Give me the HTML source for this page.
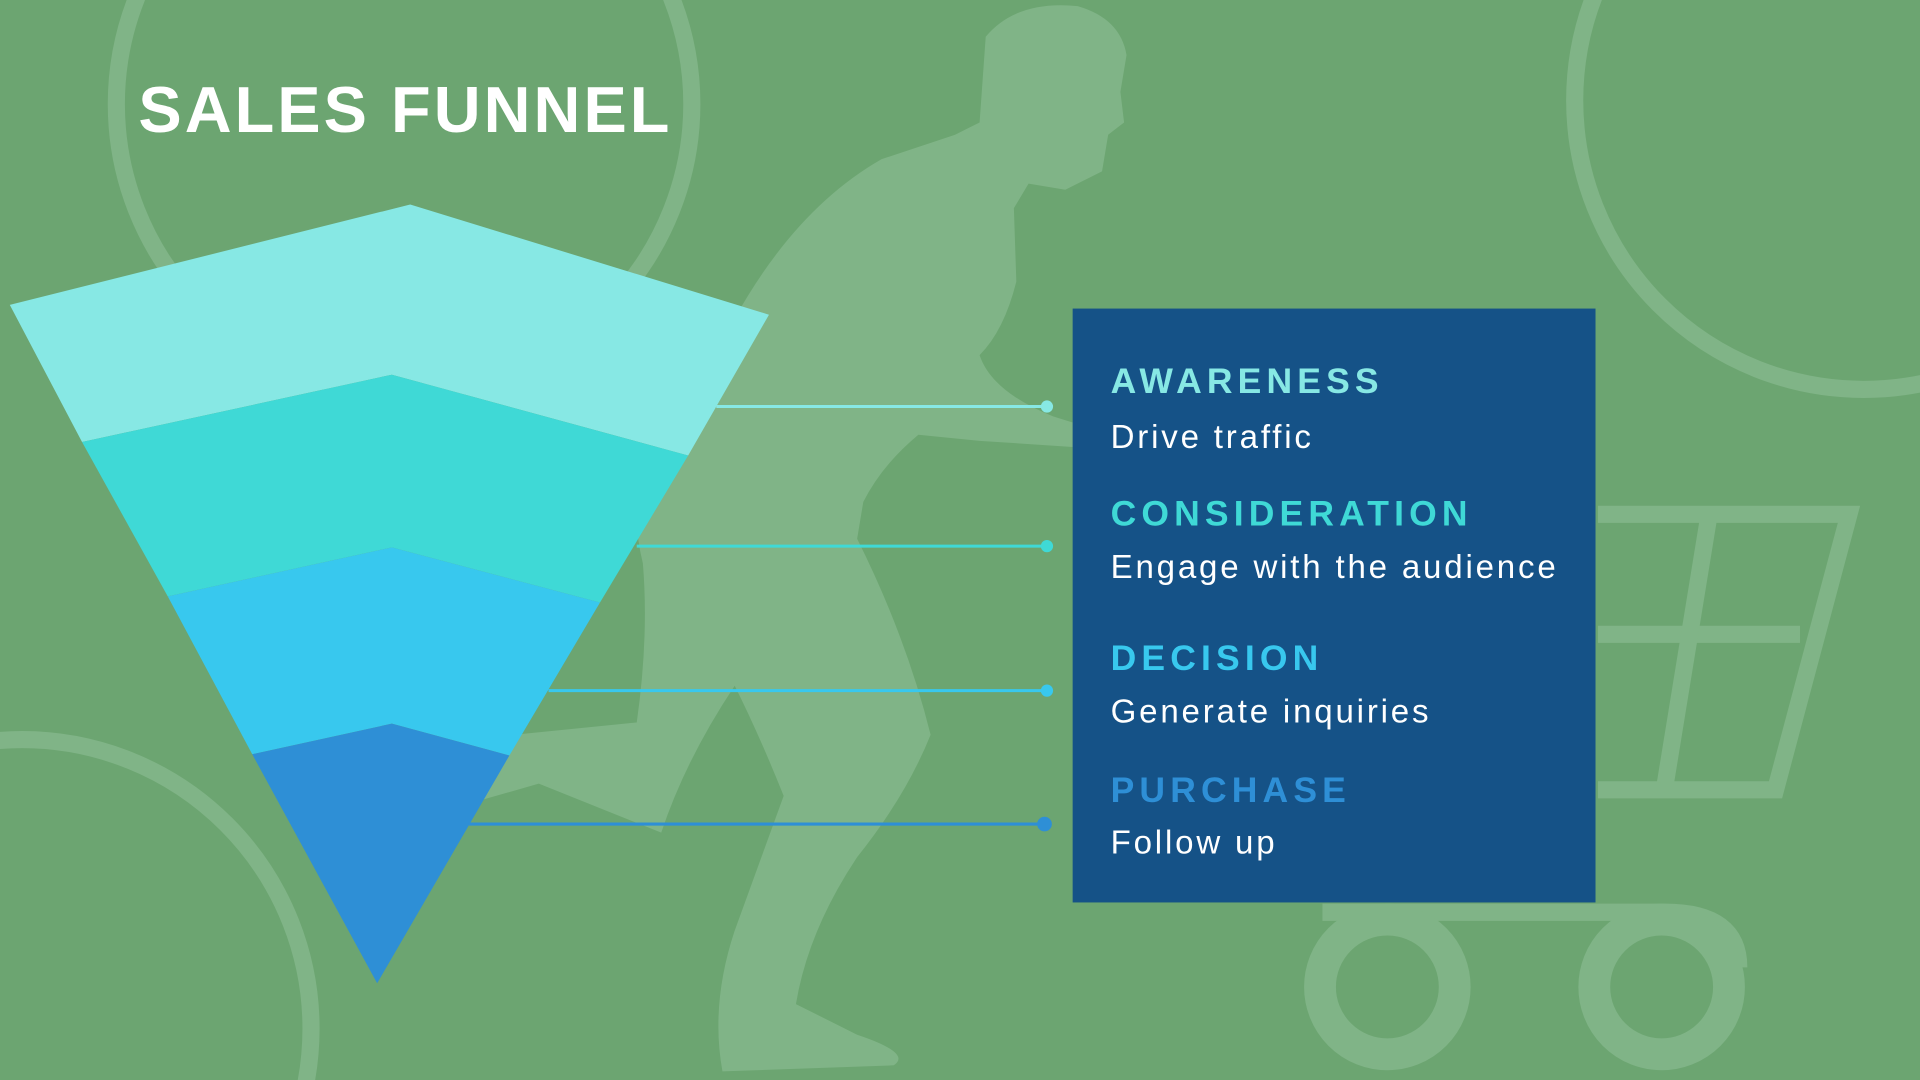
<!DOCTYPE html>
<html><head><meta charset="utf-8"><style>
html,body{margin:0;padding:0;width:1920px;height:1080px;overflow:hidden;background:#6ca571}
svg{display:block}
text{font-family:"Liberation Sans",sans-serif}
</style></head><body>
<svg width="1920" height="1080" viewBox="0 0 1568 882" xmlns="http://www.w3.org/2000/svg">
<rect width="1568" height="882" fill="#6ca571"/>
<g fill="none" stroke="#80b487" stroke-width="14">
<circle cx="330" cy="85" r="235"/>
<circle cx="1522" cy="82" r="236"/>
<circle cx="18" cy="840" r="236"/>
</g>
<g fill="#80b487">
<path d="M805,30 Q830,0 880,5 Q915,15 920,45 L915,75 L918,100 L905,110 L900,140 L870,155 L840,150 L828,170 L830,230 Q820,270 800,290 Q810,320 860,340 L876,345 L876,365 L800,360 L750,355 Q720,380 705,410 L700,440 Q740,520 760,600 Q740,650 700,700 Q660,760 650,820 L700,845 Q745,860 730,870 L590,875 Q580,820 600,760 L640,650 Q620,600 600,560 Q560,620 540,680 L440,640 L370,660 L420,600 L520,590 Q530,520 525,460 Q510,400 540,360 L600,260 Q650,170 720,130 L780,110 L800,100 Z"/>
</g>
<g fill="none" stroke="#80b487" stroke-width="14">
<polyline points="1305,420 1510,420 1450,645 1305,645"/>
<line x1="1305" y1="518" x2="1470" y2="518"/>
<line x1="1395" y1="425" x2="1360" y2="640"/>
<path d="M1080,745 L1360,745 Q1420,745 1420,790"/>
</g>
<g fill="none" stroke="#80b487" stroke-width="26">
<circle cx="1133" cy="806" r="55"/>
<circle cx="1357" cy="806" r="55"/>
</g>
<polygon points="8,249 335,167 628,257 562,372 320,306 67,361" fill="#87e8e4"/>
<polygon points="67,361 320,306 562,372 490,492 320,447 137,487" fill="#3fd9d6"/>
<polygon points="137,487 320,447 490,492 416,617 320,591 206,616" fill="#38c8ee"/>
<polygon points="206,616 320,591 416,617 308,803" fill="#2e8fd6"/>
<g stroke-width="2.5">
<line x1="585" y1="332" x2="855" y2="332" stroke="#87e8e4"/>
<line x1="520" y1="446" x2="855" y2="446" stroke="#3fd9d6"/>
<line x1="448" y1="564" x2="855" y2="564" stroke="#38c8ee"/>
<line x1="383" y1="673" x2="853" y2="673" stroke="#2e8fd6"/>
</g>
<circle cx="855" cy="332" r="5" fill="#87e8e4"/>
<circle cx="855" cy="446" r="5" fill="#3fd9d6"/>
<circle cx="855" cy="564" r="5" fill="#38c8ee"/>
<circle cx="853" cy="673" r="6" fill="#2e8fd6"/>
<rect x="876" y="252" width="427" height="485" fill="#155287"/>
<g font-weight="bold" font-size="29" letter-spacing="4.2">
<text x="907" y="321" fill="#87e8e4">AWARENESS</text>
<text x="907" y="429" fill="#3fd9d6">CONSIDERATION</text>
<text x="907" y="547" fill="#38c8ee">DECISION</text>
<text x="907" y="655" fill="#2e8fd6">PURCHASE</text>
</g>
<g font-size="27" fill="#ffffff" letter-spacing="2.3">
<text x="907" y="366">Drive traffic</text>
<text x="907" y="472">Engage with the audience</text>
<text x="907" y="590">Generate inquiries</text>
<text x="907" y="697">Follow up</text>
</g>
<text x="113" y="108" font-size="53" font-weight="bold" fill="#ffffff" letter-spacing="2.5">SALES FUNNEL</text>
</svg>
</body></html>
